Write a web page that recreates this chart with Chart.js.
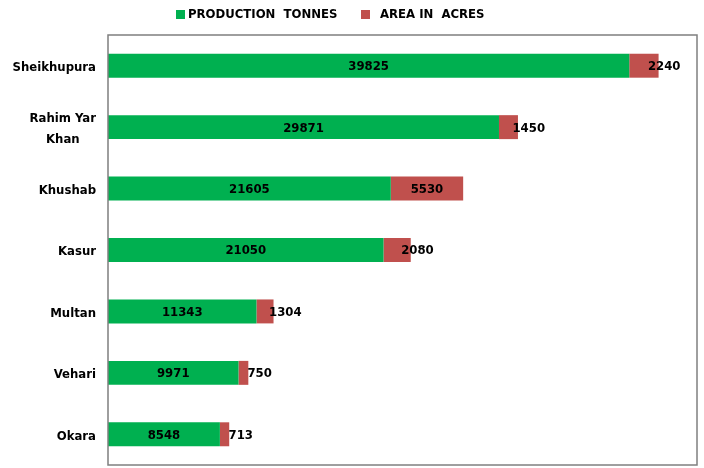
<!DOCTYPE html>
<html>
<head>
<meta charset="utf-8">
<script src="https://cdn.jsdelivr.net/npm/chart.js@4/dist/chart.umd.min.js"></script>
<style>
html,body{margin:0;padding:0;background:#fff;}
#wrap{width:704px;height:468px;position:relative;}
</style>
</head>
<body>
<div id="wrap"><canvas id="c" width="704" height="468"></canvas></div>
<script>
const categories = ['Sheikhupura', ['Rahim Yar', 'Khan'], 'Khushab', 'Kasur', 'Multan', 'Vehari', 'Okara'];
const productionTonnes = [39825, 29871, 21605, 21050, 11343, 9971, 8548];
const areaAcres = [2240, 1450, 5530, 2080, 1304, 750, 713];
const seriesNames = ['PRODUCTION  TONNES', 'AREA IN  ACRES'];

const FONT = '"DejaVu Sans Condensed", "Liberation Sans", Arial, sans-serif';

const labelPlugin = {
  id: 'labels',
  afterDatasetsDraw(chart) {
    const ctx = chart.ctx;
    ctx.save();
    ctx.font = 'bold 13px ' + FONT;
    ctx.fillStyle = '#000';
    ctx.textBaseline = 'middle';
    chart.data.datasets.forEach((ds, di) => {
      const meta = chart.getDatasetMeta(di);
      meta.data.forEach((bar, i) => {
        const v = ds.data[i];
        const txt = String(v);
        const w = ctx.measureText(txt).width;
        const left = Math.min(bar.x, bar.base), right = Math.max(bar.x, bar.base);
        const cx = (left + right) / 2;
        if (di === 0 || w + 6 < right - left) {
          ctx.textAlign = 'center';
          ctx.fillText(txt, cx, bar.y + 1);
        } else {
          ctx.textAlign = 'left';
          ctx.fillText(txt, cx + 4, bar.y + 1);
        }
      });
    });
    // category labels
    const ys = chart.scales.y;
    chart.data.labels.forEach((lab, i) => {
      const y = ys.getPixelForValue(i) + 2;
      const right = ys.right - 12;
      if (Array.isArray(lab)) {
        const maxW = Math.max(...lab.map(t => ctx.measureText(t).width));
        const cx = right - maxW / 2;
        const lh = 21;
        ctx.textAlign = 'center';
        lab.forEach((t, k) => {
          ctx.fillText(t, cx, y + (k - (lab.length - 1) / 2) * lh);
        });
      } else {
        ctx.textAlign = 'right';
        ctx.fillText(lab, right, y);
      }
    });
    ctx.restore();
  }
};

const frameLegendPlugin = {
  id: 'frameLegend',
  afterDraw(chart) {
    const a = chart.chartArea, ctx = chart.ctx;
    ctx.save();
    ctx.strokeStyle = '#7f7f7f';
    ctx.lineWidth = 1.5;
    ctx.strokeRect(a.left, a.top, a.right - a.left, a.bottom - a.top);
    // legend
    ctx.font = 'bold 13px ' + FONT;
    ctx.textBaseline = 'middle';
    ctx.textAlign = 'left';
    const starts = [176, 361];
    const gaps = [12, 19];
    chart.data.datasets.forEach((ds, i) => {
      ctx.fillStyle = ds.backgroundColor;
      ctx.fillRect(starts[i], 10, 9, 9);
      ctx.fillStyle = '#000';
      ctx.fillText(ds.label, starts[i] + gaps[i], 15);
    });
    ctx.restore();
  }
};

new Chart(document.getElementById('c'), {
  type: 'bar',
  data: {
    labels: categories,
    datasets: [
      { label: seriesNames[0], data: productionTonnes, backgroundColor: '#00B050', categoryPercentage: 1, barPercentage: 0.39 },
      { label: seriesNames[1], data: areaAcres, backgroundColor: '#C0504D', categoryPercentage: 1, barPercentage: 0.39 }
    ]
  },
  options: {
    indexAxis: 'y',
    responsive: false,
    animation: false,
    layout: { padding: { left: 0, right: 7, top: 35, bottom: 3 } },
    plugins: {
      legend: { display: false },
      tooltip: { enabled: false }
    },
    scales: {
      x: {
        stacked: true, min: 0, max: 45000,
        display: false,
        grid: { display: false }
      },
      y: {
        stacked: true,
        grid: { display: false, drawTicks: false },
        border: { display: false },
        ticks: { display: false },
        afterFit(s) { s.width = 108; s.paddingTop = 0; s.paddingBottom = 0; }
      }
    }
  },
  plugins: [labelPlugin, frameLegendPlugin]
});
</script>
</body>
</html>
